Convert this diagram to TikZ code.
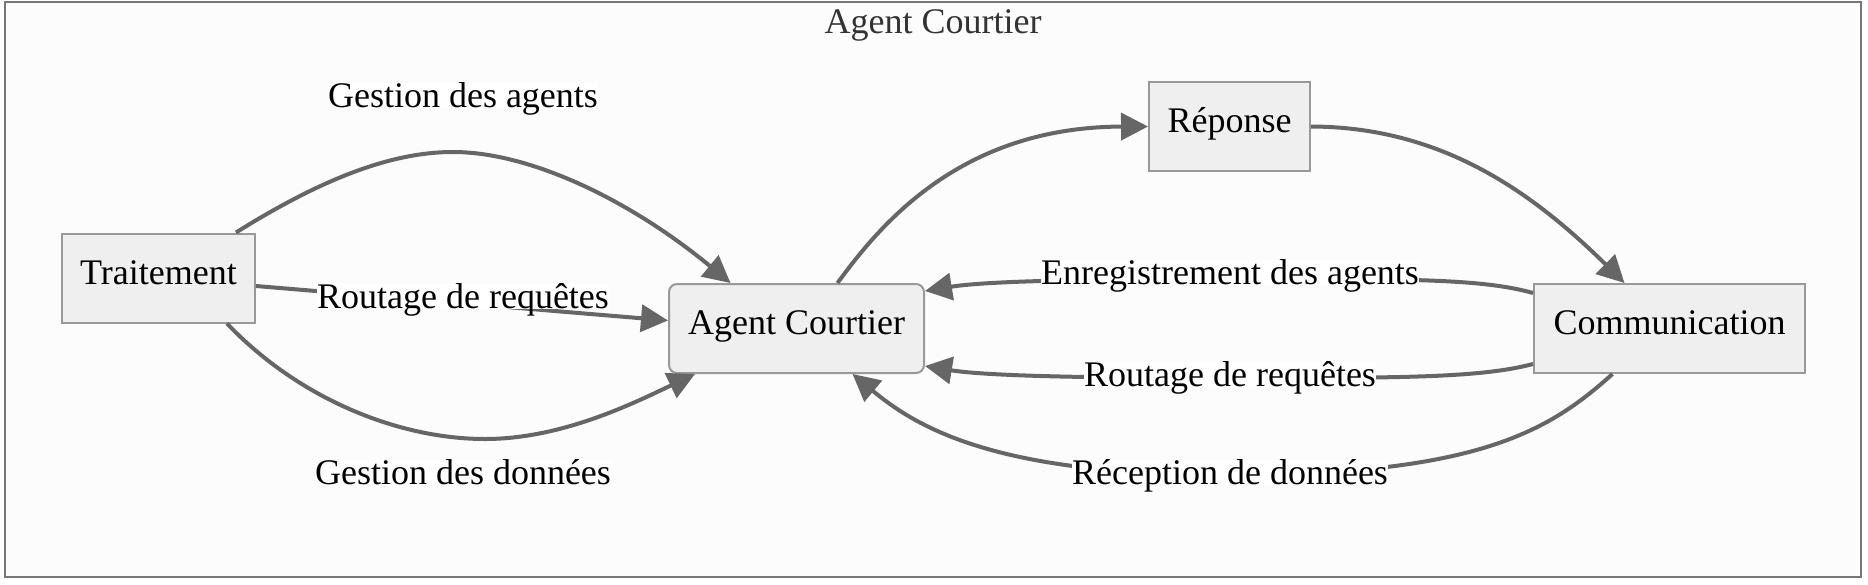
\documentclass[tikz,border=0pt]{standalone}
\usepackage{fontspec}
\setmainfont{Liberation Serif}
\usetikzlibrary{arrows.meta}
\definecolor{edgec}{HTML}{666666}
\definecolor{boxb}{HTML}{999999}
\definecolor{boxf}{HTML}{EFEFEF}
\definecolor{bgc}{HTML}{FCFCFC}
\definecolor{framec}{HTML}{777777}
\definecolor{titlec}{HTML}{333333}
\tikzset{
  box/.style={draw=boxb, fill=boxf, line width=2pt, inner sep=0pt, minimum height=89pt, text height=25pt, text depth=13pt, font=\fontsize{36}{43}\selectfont},
  edge/.style={draw=edgec, line width=4pt, -{Triangle[length=27pt,width=27pt]}},
  lbl/.style={fill=white, inner sep=0pt, text height=25pt, text depth=0pt, font=\fontsize{36}{43}\selectfont},
}
\begin{document}
\begin{tikzpicture}[x=1pt,y=-1pt]
\useasboundingbox (0,0) rectangle (1868,584);
\draw[framec, fill=bgc, line width=2pt] (5,2) rectangle (1861,577);
\node[text=titlec, font=\fontsize{36}{43}\selectfont] (title) at (933,25) {Agent Courtier};
% nodes
\node[box, minimum width=193pt] (trait) at (158.5,278) {Traitement};
\node[box, minimum width=255pt, rounded corners=8pt] (agent) at (796.5,328.5) {Agent Courtier};
\node[box, minimum width=161pt] (rep) at (1229.5,126.5) {Réponse};
\node[box, minimum width=271pt] (comm) at (1669.5,328.5) {Communication};
% edges
\draw[edge] ([xshift=-20pt]trait.north east) .. controls (320,180) and (390,152) .. (453,152) .. controls (530,152) and (630,200) .. ([xshift=-66pt]agent.north);
\draw[edge] ([yshift=-8pt]trait.east) -- ([yshift=8pt]agent.west);
\draw[edge] ([xshift=-29pt]trait.south east) .. controls (300,400) and (400,439) .. (485,439) .. controls (560,439) and (630,405) .. ([xshift=27pt]agent.south west);
\draw[edge] ([xshift=41pt]agent.north) .. controls (880,225) and (960,127) .. (rep.west);
\draw[edge] (rep.east) .. controls (1440,127) and (1530,190) .. ([xshift=-45pt]comm.north);
\draw[edge] ([yshift=-10pt]comm.north west) .. controls (1480,278) and (1400,279) .. (1230,279) .. controls (1060,279) and (980,282) .. ([yshift=-8pt]agent.north east);
\draw[edge] ([yshift=10pt]comm.south west) .. controls (1480,378) and (1400,378) .. (1230,378) .. controls (1060,378) and (980,375) .. ([yshift=8pt]agent.south east);
\draw[edge] ([xshift=-57pt]comm.south) .. controls (1550,430) and (1480,475) .. (1229,475) .. controls (1000,475) and (920,430) .. ([xshift=56pt]agent.south);
% labels
\node[lbl] (l1) at (463,95) {Gestion des agents};
\node[lbl] (l2) at (463,296) {Routage de requêtes};
\node[lbl] (l3) at (463,472) {Gestion des données};
\node[lbl] (l4) at (1230,272) {Enregistrement des agents};
\node[lbl] (l5) at (1230,374) {Routage de requêtes};
\node[lbl] (l6) at (1230,472) {Réception de données};
\end{tikzpicture}
\end{document}
